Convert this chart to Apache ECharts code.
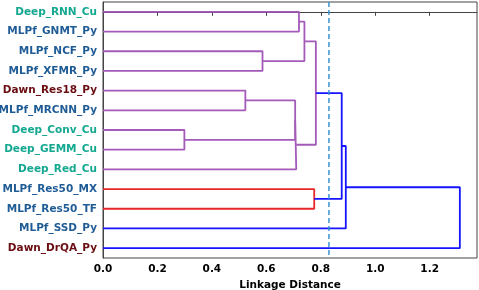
<!DOCTYPE html>
<html><head><meta charset="utf-8">
<script src="https://cdn.jsdelivr.net/npm/echarts@6/dist/echarts.min.js"></script>
<style>html,body{margin:0;padding:0;background:#fff}#c{width:479px;height:290px}</style>
</head><body><div id="c"></div>
<script>
// Leaves in display order (top to bottom)
const leaves = ['Deep_RNN_Cu','MLPf_GNMT_Py','MLPf_NCF_Py','MLPf_XFMR_Py','Dawn_Res18_Py','MLPf_MRCNN_Py','Deep_Conv_Cu','Deep_GEMM_Cu','Deep_Red_Cu','MLPf_Res50_MX','MLPf_Res50_TF','MLPf_SSD_Py','Dawn_DrQA_Py'];
const leafGroup = ['Deep','MLPf','MLPf','MLPf','Dawn','MLPf','Deep','Deep','Deep','MLPf','MLPf','MLPf','Dawn'];
// Merges: left node, right node (0-12 leaves, 13+ merged clusters), linkage distance, cluster colour key
const mergeLeft  = [0, 2, 13, 4, 6, 16, 18, 15, 9, 20, 22, 23];
const mergeRight = [1, 3, 14, 5, 7, 17, 8, 19, 10, 21, 11, 12];
const mergeHeight = [0.720, 0.586, 0.740, 0.523, 0.299, 0.706, 0.710, 0.782, 0.776, 0.877, 0.892, 1.311];
const mergeColor = ['p','p','p','p','p','p','p','p','r','b','b','b'];
const threshold = 0.83;
const xTicks = [0.0, 0.2, 0.4, 0.6, 0.8, 1.0, 1.2];

const palette = {p:'#a45ab8', r:'#e8262c', b:'#1414ff'};
const labelColors = {Deep:'#14a890', MLPf:'#1f5c96', Dawn:'#6a0d12'};

// node positions
const nodeY = leaves.map((_, i) => i);
const nodeH = leaves.map(() => 0);
const series = [];
mergeLeft.forEach((l, k) => {
  const r = mergeRight[k], h = mergeHeight[k];
  const yl = nodeY[l], yr = nodeY[r];
  series.push({
    type: 'line', yAxisIndex: 1, symbol: 'none', animation: false, silent: true,
    lineStyle: {color: palette[mergeColor[k]], width: 1.8},
    data: [[nodeH[l], yl], [h, yl], [h, yr], [nodeH[r], yr]]
  });
  nodeY.push((yl + yr) / 2);
  nodeH.push(h);
});
series.push({
  type: 'line', yAxisIndex: 1, symbol: 'none', animation: false, silent: true,
  lineStyle: {color: '#2b8fd4', width: 1.4, type: [5, 3]},
  data: [[threshold, -0.5], [threshold, leaves.length - 0.5]]
});

const chart = echarts.init(document.getElementById('c'));
chart.setOption({
  animation: false,
  grid: {left: 103, right: 2, top: 2, bottom: 32, containLabel: false, outerBoundsMode: 'none',
    show: true, borderColor: '#444', borderWidth: 1},
  xAxis: {
    type: 'value', min: 0, max: 1.374, interval: 0.2,
    name: 'Linkage Distance', nameLocation: 'middle', nameGap: 20,
    nameTextStyle: {fontFamily: 'DejaVu Sans', fontWeight: 'bold', fontSize: 10.5, color: '#000'},
    axisLine: {show: true, lineStyle: {color: '#444'}},
    axisTick: {show: true, length: 4, lineStyle: {color: '#444'}},
    splitLine: {show: false},
    axisLabel: {showMaxLabel: false, fontFamily: 'DejaVu Sans', fontWeight: 'bold', fontSize: 10.5, color: '#000', margin: 6,
      formatter: v => xTicks.some(t => Math.abs(t - v) < 1e-6) ? v.toFixed(1) : ''}
  },
  yAxis: [{
    type: 'category', data: leaves, inverse: true,
    axisLine: {show: true, lineStyle: {color: '#444'}},
    axisTick: {show: false}, splitLine: {show: false},
    axisLabel: {fontFamily: 'DejaVu Sans', fontWeight: 'bold', fontSize: 10.5, margin: 6,
      color: (v, i) => labelColors[leafGroup[i]]}
  }, {
    type: 'value', min: -0.5, max: leaves.length - 0.5, inverse: true, show: false
  }],
  series: series
});
</script></body></html>
